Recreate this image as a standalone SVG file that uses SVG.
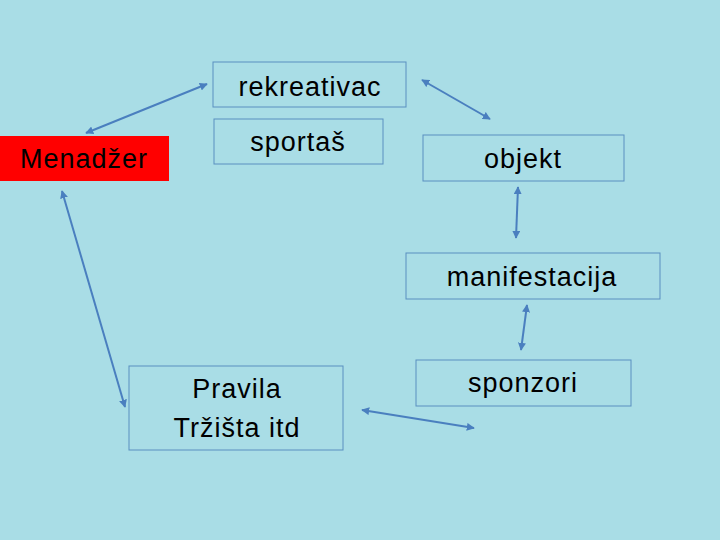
<svg xmlns="http://www.w3.org/2000/svg" width="720" height="540" viewBox="0 0 720 540">
<style>
.b{fill:none;stroke:#5a8fc0;stroke-width:1}
.t{font-family:"Liberation Sans",Arial,sans-serif;font-size:27px;fill:#000;text-anchor:middle;letter-spacing:1px}
.c{stroke:#4a7fbf;stroke-width:2;fill:none;marker-start:url(#a);marker-end:url(#a)}
</style>
<defs>
<marker id="a" viewBox="0 0 10 10" refX="9" refY="5" markerWidth="4" markerHeight="4" orient="auto-start-reverse"><path d="M0,0L10,5L0,10z" fill="#4a7fbf"/></marker>
</defs>
<rect width="720" height="540" fill="#a9dde6"/>
<g id="connectors">
<line class="c" x1="86" y1="133" x2="207" y2="84"/>
<line class="c" x1="422" y1="80" x2="490" y2="119"/>
<line class="c" x1="518" y1="187" x2="516" y2="238"/>
<line class="c" x1="527" y1="305" x2="521" y2="350"/>
<line class="c" x1="362" y1="410" x2="474" y2="428"/>
<line class="c" x1="62" y1="191" x2="125" y2="407"/>
</g>
<g id="rekreativac"><rect class="b" x="213" y="62" width="193" height="45"/><text class="t" x="310" y="96">rekreativac</text></g>
<g id="sportas"><rect class="b" x="214" y="119" width="169" height="45"/><text class="t" x="298" y="151">sportaš</text></g>
<g id="menadzer"><rect x="0" y="136" width="169" height="45" fill="#ff0000"/><text class="t" x="84" y="168">Menadžer</text></g>
<g id="objekt"><rect class="b" x="423" y="135" width="201" height="46"/><text class="t" x="523" y="168">objekt</text></g>
<g id="manifestacija"><rect class="b" x="406" y="253" width="254" height="46"/><text class="t" x="532" y="286">manifestacija</text></g>
<g id="sponzori"><rect class="b" x="416" y="360" width="215" height="46"/><text class="t" x="523" y="392">sponzori</text></g>
<g id="pravila"><rect class="b" x="129" y="366" width="214" height="84"/><text class="t" x="237" y="398">Pravila</text><text class="t" x="237" y="437">Tržišta itd</text></g>
</svg>
